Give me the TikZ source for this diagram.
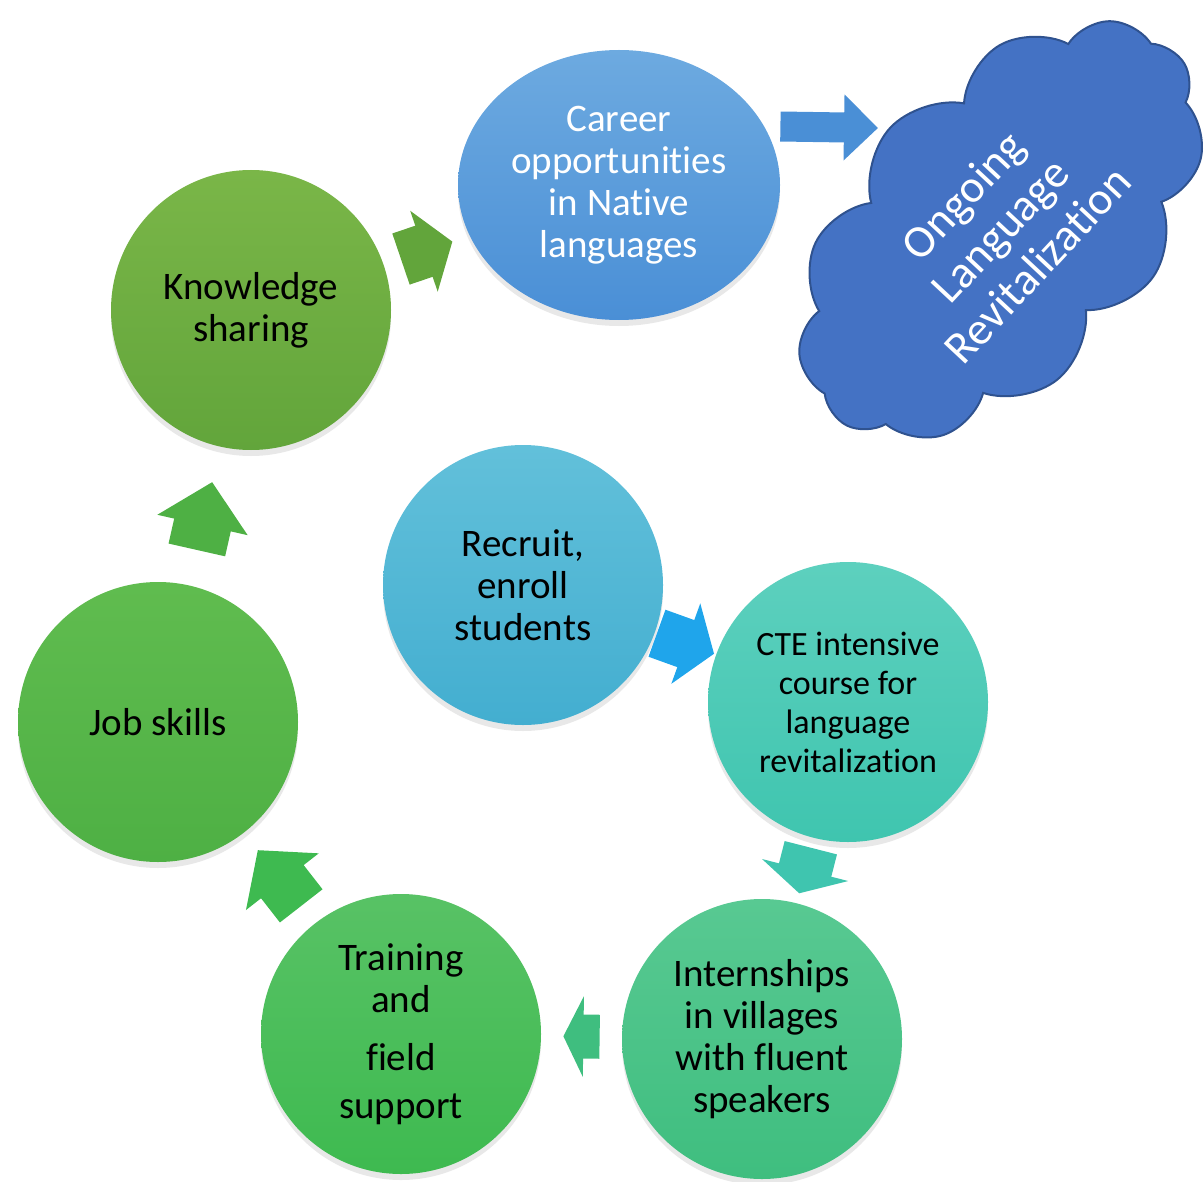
\documentclass[tikz,border=0pt]{standalone}
\usepackage{fontspec}
\setmainfont{Carlito}[RawFeature={-liga,-clig,-calt,-dlig}]
\usepackage{tikz}
\usetikzlibrary{arrows.meta,positioning,shapes.geometric,shapes.symbols,shadows}
\definecolor{CarTop}{HTML}{6DAAE0}
\definecolor{CarBot}{HTML}{4A8FD6}
\definecolor{KnowTop}{HTML}{7AB648}
\definecolor{KnowBot}{HTML}{62A53B}
\definecolor{JobTop}{HTML}{60BC4F}
\definecolor{JobBot}{HTML}{4EB044}
\definecolor{TrainTop}{HTML}{58C265}
\definecolor{TrainBot}{HTML}{3EBA50}
\definecolor{InternTop}{HTML}{58C992}
\definecolor{InternBot}{HTML}{3FBE7F}
\definecolor{CteTop}{HTML}{5DD0BE}
\definecolor{CteBot}{HTML}{3FC5AF}
\definecolor{RecTop}{HTML}{62C0DA}
\definecolor{RecBot}{HTML}{43AED0}
\definecolor{CloudBlue}{HTML}{4472C4}
\definecolor{CloudLine}{HTML}{2F528F}
\begin{document}
\begin{tikzpicture}[x=0.5pt,y=-0.5pt, every node/.style={font=\fontsize{19.5}{21}\selectfont}, disc/.style={circle,minimum size=140pt,inner sep=0pt,align=center,drop shadow={shadow xshift=0pt,shadow yshift=-3pt,opacity=0.18}}, blk/.style n args={4}{line width=#1,-{Triangle[width=#2,length=#3]},shorten <=#4,shorten >=#4}]
\useasboundingbox (0,0) rectangle (1204,1182);
\node[ellipse,minimum width=161pt,minimum height=135pt,inner sep=0pt,align=center,top color=CarTop,bottom color=CarBot,text=white,drop shadow={shadow xshift=0pt,shadow yshift=-3pt,opacity=0.18}] (car) at (619,185) {Career\\opportunities\\in Native\\languages};
\node[cloud,cloud puffs=11,cloud puff arc=115,aspect=1.6,minimum width=250pt,minimum height=150pt,rotate=47,fill=CloudBlue,draw=CloudLine,line width=1pt,text=white,align=center,font=\fontsize{23}{25.5}\selectfont] (cloud) at (1000,230) {Ongoing\\Language\\Revitalization};
\node[disc,top color=KnowTop,bottom color=KnowBot] (know) at (251,310) {Knowledge\\sharing};
\node[disc,top color=JobTop,bottom color=JobBot] (job) at (158,722) {Job skills};
\node[disc,top color=TrainTop,bottom color=TrainBot] (train) at (401,1034) {Training\\and\\[8pt]field\\[3pt]support};
\node[disc,top color=InternTop,bottom color=InternBot] (intern) at (762,1039) {Internships\\in villages\\with fluent\\speakers};
\node[disc,top color=CteTop,bottom color=CteBot,font=\fontsize{17}{19.5}\selectfont] (cte) at (848,702) {CTE intensive\\course for\\language\\revitalization};
\node[disc,top color=RecTop,bottom color=RecBot] (rec) at (523,585) {Recruit,\\enroll\\students};
\coordinate (cldin) at (878,128);
\draw[blk={27pt}{42pt}{15pt}{9pt},draw=KnowBot] (know) -- (car);
\draw[blk={15pt}{32pt}{17pt}{0pt},draw=CarBot,shorten <=8pt] (car.22) -- (cldin);
\draw[blk={29pt}{45pt}{22pt}{18pt},draw=JobBot] (job) -- (know);
\draw[blk={27pt}{45pt}{20pt}{11pt},draw=TrainBot] (train) -- (job);
\draw[blk={22pt}{40pt}{10pt}{11pt},draw=InternBot] (intern) -- (train);
\draw[blk={27pt}{44pt}{12pt}{5pt},draw=CteBot] (cte) -- (intern);
\draw[blk={25pt}{42pt}{15pt}{1pt},draw={rgb,255:red,31;green,165;blue,235}] (rec) -- (cte);
\end{tikzpicture}
\end{document}
